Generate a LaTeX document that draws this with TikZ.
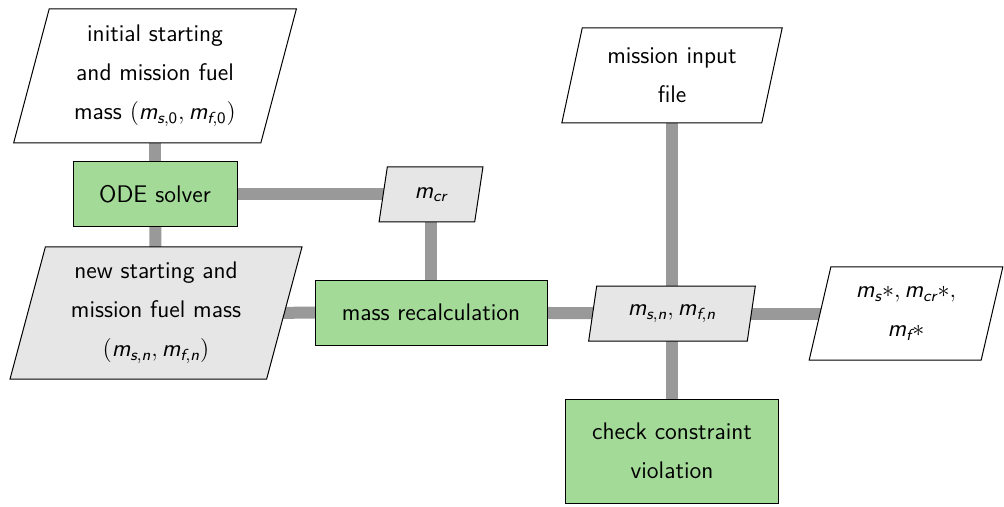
\documentclass[tikz,border=0pt]{standalone}
\usepackage{amsmath}
\usetikzlibrary{shapes.geometric,backgrounds}
\definecolor{procgreen}{RGB}{163,218,152}
\definecolor{datagray}{RGB}{230,230,230}
\definecolor{linkgray}{RGB}{153,153,153}
% sans-serif oblique variables, as in slide-style math
\newcommand{\sv}[1]{\text{\sffamily\slshape #1}}
\newcommand{\su}[1]{\text{\sffamily #1}}
\tikzset{
  base/.style={draw=black, line width=0.5pt, inner sep=0pt, align=center,
    font=\sffamily\fontsize{12}{19.5}\selectfont},
  process/.style={base, rectangle, fill=procgreen},
  data/.style={base, trapezium, trapezium left angle=75, trapezium right angle=105,
    trapezium stretches=true},
  datain/.style={data, fill=white},
  datamid/.style={data, fill=datagray},
  link/.style={draw=linkgray, line width=6pt},
}
\begin{document}
\begin{tikzpicture}[x=0.5pt, y=-0.5pt]
\useasboundingbox (0,0) rectangle (1004,507);

\node[datain, minimum width=141.5pt, minimum height=67pt] (init) at (155,76)
  {initial starting\\and mission fuel\\mass $(\sv{m}_{\sv{s},\su{0}}, \sv{m}_{\sv{f},\su{0}})$};
\node[process, minimum width=82pt, minimum height=32.5pt] (ode) at (155,194.5) {ODE solver};
\node[datamid, minimum width=146pt, minimum height=66pt] (new) at (156,313)
  {new starting and\\mission fuel mass\\$(\sv{m}_{\sv{s},\sv{n}}, \sv{m}_{\sv{f},\sv{n}})$};
\node[datamid, minimum width=52pt, minimum height=27.5pt,
  trapezium left angle=78, trapezium right angle=102] (mcr) at (431,194.5) {$\sv{m}_{\sv{cr}}$};
\node[process, minimum width=116pt, minimum height=32.5pt] (recalc) at (431,312.5) {mass recalculation};
\node[datamid, minimum width=83.5pt, minimum height=27.5pt] (msn) at (672,313.5)
  {$\sv{m}_{\sv{s},\sv{n}}, \sv{m}_{\sv{f},\sv{n}}$};
\node[datain, minimum width=111pt, minimum height=47.5pt] (mission) at (672,75.5)
  {mission input\\file};
\node[datain, minimum width=97pt, minimum height=46.5pt] (out) at (906,313.5)
  {$\sv{m}_{\sv{s}}{*}, \sv{m}_{\sv{cr}}{*},$\\$\sv{m}_{\sv{f}}{*}$};
\node[process, minimum width=106.5pt, minimum height=52pt] (check) at (672,451)
  {check constraint\\violation};

\begin{scope}[on background layer]
  \path[link] (init.center) -- (ode.center);
  \path[link] (ode.center) -- (new.center);
  \path[link] (ode.center) -- (mcr.center);
  \path[link] (mcr.center) -- (recalc.center);
  \path[link] (new.center) -- (recalc.center);
  \path[link] (recalc.center) -- (msn.center);
  \path[link] (mission.center) -- (msn.center);
  \path[link] (msn.center) -- (out.center);
  \path[link] (msn.center) -- (check.center);
\end{scope}
\end{tikzpicture}
\end{document}
